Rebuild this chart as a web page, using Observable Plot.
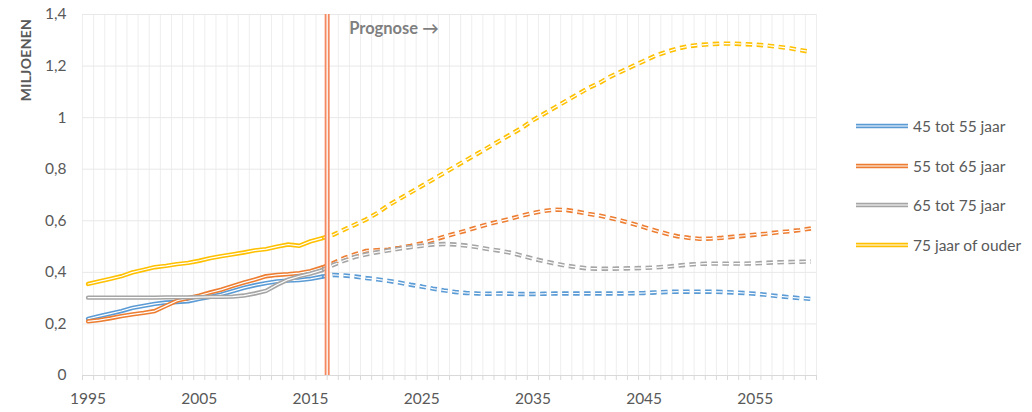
<!DOCTYPE html>
<html><head><meta charset="utf-8">
<script src="https://cdn.jsdelivr.net/npm/d3@7"></script>
<script src="https://cdn.jsdelivr.net/npm/@observablehq/plot@0.6"></script>
<style>
body{margin:0;background:#fff;font-family:Lato,"Open Sans",sans-serif;}
#wrap{position:relative;width:1032px;height:412px;overflow:hidden;}
#ylab{position:absolute;left:25px;top:60px;transform:translate(-50%,-50%) rotate(-90deg);font-size:14px;font-weight:bold;color:#595959;letter-spacing:0.3px;white-space:nowrap;}
#legend{position:absolute;left:856px;top:116px;}
.row{display:flex;align-items:center;height:20px;margin-bottom:19.5px;}
.row span{font-size:15.5px;color:#595959;margin-left:5px;white-space:nowrap;}
</style></head><body><div id="wrap"></div>
<script>
const series = ["45 tot 55 jaar","55 tot 65 jaar","65 tot 75 jaar","75 jaar of ouder"];
const colors = ["#5B9BD5","#ED7D31","#A5A5A5","#FFC000"];

const histYears = [1995,1996,1997,1998,1999,2000,2001,2002,2003,2004,2005,2006,2007,2008,2009,2010,2011,2012,2013,2014,2015,2016];
const progYears = [2016,2017,2018,2019,2020,2021,2022,2023,2024,2025,2026,2027,2028,2029,2030,2031,2032,2033,2034,2035,2036,2037,2038,2039,2040,2041,2042,2043,2044,2045,2046,2047,2048,2049,2050,2051,2052,2053,2054,2055,2056,2057,2058,2059,2060];
const allYears = [1995,1996,1997,1998,1999,2000,2001,2002,2003,2004,2005,2006,2007,2008,2009,2010,2011,2012,2013,2014,2015,2016,2017,2018,2019,2020,2021,2022,2023,2024,2025,2026,2027,2028,2029,2030,2031,2032,2033,2034,2035,2036,2037,2038,2039,2040,2041,2042,2043,2044,2045,2046,2047,2048,2049,2050,2051,2052,2053,2054,2055,2056,2057,2058,2059,2060];

// historical values (millions)
const hist45 = [0.22,0.23,0.24,0.25,0.262,0.27,0.278,0.283,0.285,0.288,0.297,0.305,0.315,0.327,0.34,0.35,0.358,0.365,0.368,0.37,0.375,0.383];
const hist55 = [0.21,0.215,0.222,0.23,0.237,0.243,0.25,0.27,0.29,0.3,0.31,0.322,0.333,0.347,0.36,0.372,0.385,0.39,0.393,0.397,0.405,0.418];
const hist65 = [0.302,0.302,0.302,0.302,0.302,0.302,0.302,0.303,0.303,0.303,0.304,0.305,0.305,0.306,0.31,0.318,0.328,0.352,0.372,0.385,0.395,0.408];
const hist75 = [0.355,0.365,0.375,0.385,0.4,0.41,0.42,0.425,0.432,0.437,0.445,0.455,0.463,0.47,0.477,0.485,0.49,0.5,0.508,0.503,0.52,0.532];

// prognosis values (millions), 2016-2060
const prog45 = [0.383,0.39,0.388,0.384,0.378,0.373,0.367,0.36,0.352,0.345,0.337,0.33,0.324,0.32,0.318,0.317,0.318,0.317,0.316,0.316,0.317,0.318,0.318,0.318,0.318,0.318,0.318,0.318,0.319,0.32,0.322,0.324,0.325,0.325,0.325,0.325,0.324,0.322,0.32,0.317,0.313,0.308,0.304,0.3,0.297];
const prog55 = [0.418,0.435,0.455,0.47,0.483,0.486,0.488,0.495,0.503,0.512,0.525,0.538,0.55,0.562,0.575,0.587,0.598,0.608,0.62,0.63,0.638,0.643,0.642,0.635,0.627,0.62,0.61,0.6,0.588,0.575,0.562,0.55,0.54,0.534,0.53,0.531,0.534,0.538,0.542,0.546,0.55,0.555,0.559,0.564,0.57];
const prog65 = [0.408,0.428,0.445,0.46,0.47,0.478,0.485,0.492,0.498,0.503,0.508,0.51,0.508,0.504,0.498,0.49,0.484,0.476,0.465,0.453,0.443,0.434,0.426,0.42,0.415,0.414,0.414,0.415,0.416,0.417,0.419,0.422,0.426,0.43,0.433,0.434,0.434,0.434,0.434,0.435,0.437,0.439,0.44,0.441,0.442];
const prog75 = [0.532,0.545,0.565,0.585,0.605,0.63,0.66,0.685,0.71,0.735,0.76,0.785,0.81,0.835,0.86,0.885,0.91,0.935,0.96,0.99,1.015,1.04,1.065,1.09,1.115,1.135,1.16,1.18,1.2,1.22,1.24,1.255,1.268,1.277,1.282,1.285,1.287,1.287,1.285,1.283,1.28,1.275,1.27,1.262,1.255];

const forecastStart = 2016.5;
const prognoseLabel = "Prognose \u2192";
const yTicks = [0,0.2,0.4,0.6,0.8,1,1.2,1.4];
const xTicks = [1995,2005,2015,2025,2035,2045,2055];
const yLabel = "MILJOENEN";

const histVals = [hist45,hist55,hist65,hist75];
const progVals = [prog45,prog55,prog65,prog75];
const boundaries = allYears.map(y => y - 0.5).concat([allYears[allYears.length-1] + 0.5]);
const fmt = d => String(+d.toFixed(1)).replace(".", ",");
const dash = "6.5,4.5";

const lineMarks = [];
series.forEach((s, i) => {
  const h = histYears.map((yr, j) => ({year: yr, value: histVals[i][j]}));
  const p = progYears.map((yr, j) => ({year: yr, value: progVals[i][j]}));
  lineMarks.push(Plot.line(p, {x: "year", y: "value", stroke: colors[i], strokeWidth: 4.4, strokeDasharray: dash, strokeLinecap: "butt"}));
  lineMarks.push(Plot.line(p, {x: "year", y: "value", stroke: "white", strokeWidth: 1.2, strokeDasharray: dash, strokeLinecap: "butt"}));
  lineMarks.push(Plot.line(h, {x: "year", y: "value", stroke: colors[i], strokeWidth: 4.4}));
  lineMarks.push(Plot.line(h, {x: "year", y: "value", stroke: "white", strokeWidth: 1.2}));
});

const chart = Plot.plot({
  width: 1032, height: 412,
  marginLeft: 82, marginRight: 216, marginTop: 14, marginBottom: 37,
  x: {domain: [1994.5, 2060.5]},
  y: {domain: [0, 1.4]},
  style: {fontFamily: "Lato, 'Open Sans', sans-serif", fontSize: "15.5px", color: "#595959", background: "white"},
  marks: [
    Plot.ruleX(boundaries, {stroke: "#EEEEEE", strokeWidth: 1}),
    Plot.ruleY(yTicks, {stroke: "#E8E8E8", strokeWidth: 1}),
    Plot.ruleY([0], {stroke: "#D9D9D9", strokeWidth: 1}),
    Plot.axisX({ticks: boundaries, tickSize: 5, tickFormat: () => "", stroke: "#D9D9D9", label: null}),
    Plot.axisX({ticks: xTicks, tickSize: 0, tickPadding: 17, tickFormat: d => String(d), label: null, fill: "#595959"}),
    Plot.axisY({ticks: yTicks, tickSize: 0, tickPadding: 16, tickFormat: fmt, label: null, fill: "#595959"}),
    ...lineMarks,
    Plot.ruleX([forecastStart], {stroke: "#F4895F", strokeWidth: 5}),
    Plot.ruleX([forecastStart], {stroke: "white", strokeWidth: 1.3}),
    Plot.text([prognoseLabel], {x: () => forecastStart, frameAnchor: "top", lineAnchor: "middle", dx: 22, dy: 14, textAnchor: "start", fontWeight: "bold", fontSize: 16.5, fill: "#7F7F7F"})
  ]
});

const wrap = document.getElementById("wrap");
wrap.appendChild(chart);
const yl = document.createElement("div");
yl.id = "ylab"; yl.textContent = yLabel;
wrap.appendChild(yl);
const leg = document.createElement("div");
leg.id = "legend";
series.forEach((s, i) => {
  const row = document.createElement("div");
  row.className = "row";
  row.innerHTML = `<svg width="52" height="8"><line x1="0" x2="52" y1="4" y2="4" stroke="${colors[i]}" stroke-width="4.4"/><line x1="0" x2="52" y1="4" y2="4" stroke="white" stroke-width="1.2"/></svg><span>${s}</span>`;
  leg.appendChild(row);
});
wrap.appendChild(leg);
</script>
</body></html>
